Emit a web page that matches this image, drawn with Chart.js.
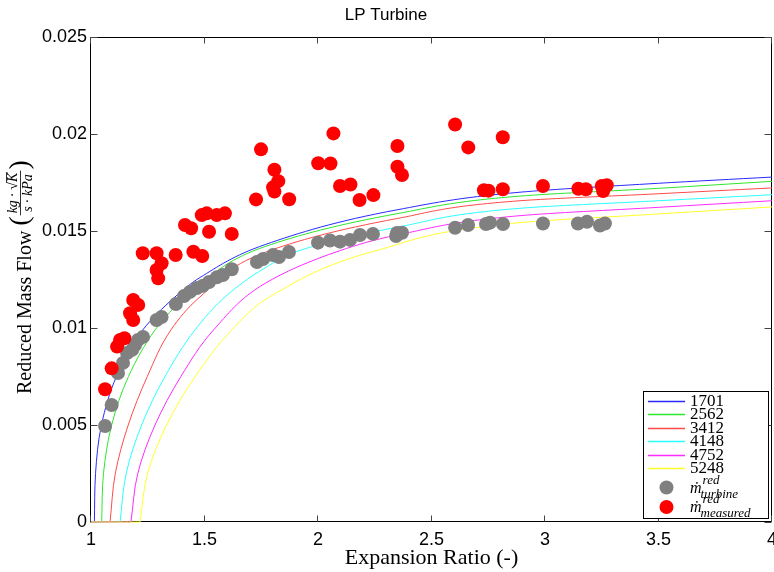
<!DOCTYPE html>
<html><head><meta charset="utf-8">
<script src="https://cdn.jsdelivr.net/npm/chart.js@4.4.1/dist/chart.umd.min.js"></script>
<style>html,body{margin:0;padding:0;background:#fff;overflow:hidden}canvas{display:block}</style>
</head><body>
<canvas id="c" width="774" height="572"></canvas>
<script>
const chartTitle = 'LP Turbine';
const xAxisTitle = 'Expansion Ratio (-)';
const yAxisTitle = 'Reduced Mass Flow';
const yUnitNum = 'kg \u00B7 \u221AK';
const yUnitDen = 's \u00B7 kPa';
const xTickLabels = ['1','1.5','2','2.5','3','3.5','4'];
const yTickLabels = ['0','0.005','0.01','0.015','0.02','0.025'];
const speedLabels = ['1701','2562','3412','4148','4752','5248'];
const turbineLabel = {main:'\u1E41', sup:'red', sub:'turbine'};
const measuredLabel = {main:'\u1E41', sup:'red', sub:'measured'};

// constant-speed lines: flat part along the axis, then the rising curve
const speedStart = [1.015, 1.047, 1.084, 1.128, 1.176, 1.216];
const speed1701X = [1.015, 1.020, 1.046, 1.112, 1.228, 1.37, 1.48, 1.767, 2.352, 2.89, 3.5, 4.0];
const speed1701Y = [0, 0.0025, 0.005, 0.0075, 0.0099, 0.0116, 0.0126, 0.0143, 0.0161, 0.0170, 0.01746, 0.01778];
const speed2562X = [1.047, 1.055, 1.091, 1.165, 1.282, 1.37, 1.48, 1.767, 2.352, 2.89, 3.5, 4.0];
const speed2562Y = [0, 0.0025, 0.005, 0.0075, 0.0099, 0.0111, 0.0123, 0.0142, 0.0159, 0.0168, 0.0172, 0.01756];
const speed3412X = [1.084, 1.107, 1.164, 1.248, 1.352, 1.48, 1.767, 2.352, 2.89, 3.5, 4.0];
const speed3412Y = [0, 0.0025, 0.005, 0.0075, 0.0099, 0.0116, 0.0139, 0.01565, 0.01656, 0.01692, 0.01722];
const speed4148X = [1.128, 1.155, 1.223, 1.326, 1.458, 1.6, 1.767, 1.92, 2.352, 2.89, 3.5, 4.0];
const speed4148Y = [0, 0.0025, 0.005, 0.0075, 0.0099, 0.0117, 0.0131, 0.0140, 0.0152, 0.01617, 0.01656, 0.01687];
const speed4752X = [1.176, 1.206, 1.282, 1.396, 1.54, 1.767, 2.10, 2.352, 2.89, 3.5, 4.0];
const speed4752Y = [0, 0.0025, 0.005, 0.0075, 0.0099, 0.0123, 0.0140, 0.0148, 0.01579, 0.01622, 0.01656];
const speed5248X = [1.216, 1.249, 1.333, 1.459, 1.62, 1.80, 2.26, 2.89, 3.5, 4.0];
const speed5248Y = [0, 0.0025, 0.005, 0.0075, 0.0099, 0.0117, 0.0140, 0.01543, 0.01588, 0.01624];

const turbineX = [1.062,1.091,1.119,1.141,1.159,1.181,1.194,1.207,1.229,1.289,1.311,1.374,1.410,1.436,1.467,1.493,1.520,1.554,1.581,1.620,1.731,1.758,1.802,1.828,1.872,2.000,2.053,2.097,2.141,2.185,2.242,2.344,2.348,2.370,2.604,2.661,2.740,2.758,2.815,2.991,3.145,3.185,3.242,3.264];
const turbineY = [0.00495,0.00603,0.00768,0.00820,0.00871,0.00887,0.00912,0.00938,0.00954,0.01041,0.01057,0.01124,0.01165,0.01186,0.01206,0.01218,0.01237,0.01261,0.01273,0.01303,0.01340,0.01356,0.01376,0.01366,0.01392,0.01440,0.01451,0.01445,0.01454,0.01479,0.01485,0.01474,0.01490,0.01491,0.01517,0.01531,0.01536,0.01543,0.01536,0.01539,0.01539,0.01548,0.01528,0.01539];

const measuredX = [1.062,1.091,1.115,1.128,1.147,1.172,1.186,1.186,1.208,1.228,1.289,1.311,1.289,1.296,1.373,1.414,1.441,1.451,1.490,1.488,1.510,1.520,1.554,1.590,1.620,1.727,1.749,1.808,1.825,1.802,1.808,1.873,2.001,2.055,2.068,2.097,2.143,2.183,2.244,2.350,2.350,2.370,2.604,2.662,2.814,2.731,2.751,2.814,2.991,3.147,3.180,3.250,3.272,3.256];
const measuredY = [0.00684,0.00792,0.00904,0.00938,0.00947,0.01076,0.01041,0.01144,0.01119,0.01385,0.01385,0.01334,0.01299,0.01256,0.01376,0.01531,0.01514,0.01393,0.01371,0.01582,0.01591,0.01496,0.01582,0.01591,0.01485,0.01663,0.01921,0.01816,0.01757,0.01725,0.01703,0.01664,0.01849,0.01848,0.02003,0.01732,0.01740,0.01660,0.01685,0.01938,0.01831,0.01789,0.02049,0.01931,0.01983,0.01710,0.01708,0.01715,0.01732,0.01718,0.01715,0.01732,0.01736,0.01706];

const speedX = [speed1701X, speed2562X, speed3412X, speed4148X, speed4752X, speed5248X];
const speedY = [speed1701Y, speed2562Y, speed3412Y, speed4148Y, speed4752Y, speed5248Y];
const lineColors = ['#2a2aff','#2ee62e','#ff4a4a','#2affff','#ff2aff','#ffff2a'];

const SANS = "'Liberation Sans', Arial, sans-serif";
const SERIF = "'Liberation Serif', 'Times New Roman', serif";

function pts(xs, ys){ return xs.map((x,i)=>({x:x, y:ys[i]})); }
function curvePts(i){
  const flat = [{x:1, y:0}, {x:speedStart[i], y:0}, {x:speedStart[i], y:null}];
  return flat.concat(pts(speedX[i], speedY[i]));
}

const datasets = [];
speedLabels.forEach((lab,i)=>{
  datasets.push({
    type:'line', label: lab, data: curvePts(i), indexAxis: 'y',
    borderColor: lineColors[i], borderWidth: 1, pointRadius: 0, pointHoverRadius: 0,
    fill: false, spanGaps: false, cubicInterpolationMode: 'monotone', order: 7 - i, clip: 2
  });
});
datasets.push({type:'scatter', label:'turbine', legendMath: turbineLabel, data: pts(turbineX, turbineY),
  backgroundColor:'#808080', borderWidth:0, pointRadius:7, pointHoverRadius:7, order:1});
datasets.push({type:'scatter', label:'measured', legendMath: measuredLabel, data: pts(measuredX, measuredY),
  backgroundColor:'#ff0000', borderWidth:0, pointRadius:7, pointHoverRadius:7, order:0});

// keep the plot box at its fixed place (the last x label may run off the canvas, as in the source)
const boxPlugin = {
  id:'box',
  afterLayout(chart){
    const a = chart.chartArea, xs = chart.scales.x;
    const r = chart.width - 2;
    a.right = r; a.width = a.right - a.left;
    xs.right = r; xs.width = xs.right - xs.left;
    xs.configure();
  }
};

const framePlugin = {
  id:'frame',
  beforeDatasetsDraw(chart){
    const {ctx, chartArea:a, scales} = chart;
    const L = Math.round(a.left)-0.5, R = Math.round(a.right)-0.5, T = Math.round(a.top)+0.5, B = Math.round(a.bottom)-0.5;
    ctx.save();
    ctx.strokeStyle = '#000'; ctx.lineWidth = 1;
    ctx.beginPath();
    ctx.moveTo(L,T); ctx.lineTo(R,T); ctx.lineTo(R,B); ctx.lineTo(L,B); ctx.closePath();
    ctx.stroke();
    ctx.strokeStyle = '#444';
    ctx.beginPath();
    scales.x.ticks.forEach(t=>{
      const p = Math.round(scales.x.getPixelForValue(t.value))-0.5;
      ctx.moveTo(p,B); ctx.lineTo(p,B-6);
      ctx.moveTo(p,T); ctx.lineTo(p,T+6);
    });
    scales.y.ticks.forEach(t=>{
      const p = Math.round(scales.y.getPixelForValue(t.value))+0.5;
      ctx.moveTo(L,p); ctx.lineTo(L+7,p);
      ctx.moveTo(R,p); ctx.lineTo(R-7,p);
    });
    ctx.stroke();
    ctx.restore();
  }
};

const yTitlePlugin = {
  id:'ytitle',
  afterDraw(chart){
    const ctx = chart.ctx, a = chart.chartArea;
    ctx.save();
    ctx.translate(24, a.bottom - 128);
    ctx.rotate(-Math.PI/2);
    ctx.fillStyle = '#000';
    const mainFont = '20px ' + SERIF, parFont = '28px ' + SERIF, fracFont = 'italic 14px ' + SERIF;
    ctx.font = mainFont; const wMain = ctx.measureText(yAxisTitle + ' ').width;
    ctx.font = parFont; const wPar = ctx.measureText('(').width;
    ctx.font = fracFont; const wNum = ctx.measureText(yUnitNum).width, wDen = ctx.measureText(yUnitDen).width;
    const wFrac = Math.max(wNum, wDen) + 6;
    let x = 0;
    ctx.textBaseline = 'alphabetic'; ctx.textAlign = 'left';
    ctx.font = mainFont; ctx.fillText(yAxisTitle + ' ', x, 7); x += wMain;
    ctx.textBaseline = 'middle';
    ctx.font = parFont; ctx.fillText('(', x, -3); x += wPar;
    ctx.textBaseline = 'alphabetic';
    ctx.font = fracFont;
    ctx.fillText(yUnitNum, x + (wFrac - wNum)/2, -7);
    ctx.fillText(yUnitDen, x + (wFrac - wDen)/2, 8);
    const wK = ctx.measureText('K').width;
    const nxEnd = x + (wFrac - wNum)/2 + wNum;
    ctx.fillRect(nxEnd - wK - 0.5, -18, wK + 1, 0.8);
    ctx.fillRect(x + 1, -4, wFrac - 2, 0.8);
    x += wFrac;
    ctx.textBaseline = 'middle';
    ctx.font = parFont; ctx.fillText(')', x, -3);
    ctx.restore();
  }
};

const legendPlugin = {
  id:'mlegend',
  afterDraw(chart){
    const ctx = chart.ctx, a = chart.chartArea;
    const ds = chart.data.datasets;
    const x1 = a.right - 4, y1 = a.bottom - 4, x0 = x1 - 125, y0 = y1 - 127;
    ctx.save();
    ctx.fillStyle = '#fff';
    ctx.fillRect(x0, y0, x1-x0, y1-y0);
    ctx.strokeStyle = '#000'; ctx.lineWidth = 1;
    ctx.strokeRect(Math.round(x0)+0.5, Math.round(y0)+0.5, Math.round(x1-x0), Math.round(y1-y0));
    let y = y0 + 9.5;
    const lx0 = x0 + 5, lx1 = x0 + 42, tx = x0 + 47;
    ds.forEach(d=>{
      if (d.type === 'line') {
        ctx.strokeStyle = d.borderColor; ctx.lineWidth = 1.6;
        ctx.beginPath(); ctx.moveTo(lx0, Math.round(y)+0.5); ctx.lineTo(lx1, Math.round(y)+0.5); ctx.stroke();
        ctx.fillStyle = '#000'; ctx.font = '17px ' + SERIF; ctx.textBaseline = 'middle'; ctx.textAlign='left';
        ctx.fillText(d.label, tx, y + 1);
        y += 13.5;
      }
    });
    y += 5;
    ds.forEach(d=>{
      if (d.type === 'scatter') {
        ctx.fillStyle = d.backgroundColor;
        ctx.beginPath(); ctx.arc((lx0+lx1)/2, y + 1, 7, 0, Math.PI*2); ctx.fill();
        const m = d.legendMath;
        ctx.fillStyle = '#000'; ctx.textBaseline = 'alphabetic'; ctx.textAlign='left';
        ctx.font = 'italic 16px ' + SERIF; ctx.fillText(m.main, tx, y + 6);
        const wm = ctx.measureText(m.main).width;
        ctx.font = 'italic 13px ' + SERIF;
        ctx.fillText(m.sup, tx + wm + 1, y - 3);
        ctx.fillText(m.sub, tx + wm - 1, y + 11);
        y += 19.5;
      }
    });
    ctx.restore();
  }
};

new Chart(document.getElementById('c'), {
  type: 'scatter',
  data: { datasets },
  options: {
    responsive: false, animation: false, events: [],
    devicePixelRatio: 1,
    layout: { padding: { left: 0, right: 2, top: 0, bottom: 0 } },
    plugins: {
      legend: { display: false }, tooltip: { enabled: false },
      title: { display: true, text: chartTitle, color: '#000',
        font: { family: SANS, size: 17, weight: 'normal', lineHeight: 1 },
        padding: { top: 7, bottom: 13 } }
    },
    scales: {
      x: {
        type: 'linear', min: 1, max: 4,
        grid: { display: false, drawTicks: false }, border: { display: false },
        ticks: { stepSize: 0.5, padding: 7, color: '#000', font: { family: SANS, size: 18 },
          maxRotation: 0, autoSkip: false,
          callback: (v, i) => xTickLabels[i] },
        title: { display: true, text: xAxisTitle, color: '#000', font: { family: SERIF, size: 22 }, padding: { top: 0, bottom: 1 } },
        afterFit(s){ s.height = 50; s.paddingLeft = 0; s.paddingRight = 0; }
      },
      y: {
        type: 'linear', min: 0, max: 0.025,
        grid: { display: false, drawTicks: false }, border: { display: false },
        ticks: { stepSize: 0.005, padding: 4, color: '#000', font: { family: SANS, size: 18 },
          autoSkip: false, callback: (v, i) => yTickLabels[i] },
        afterFit(s){ s.width = 91; s.paddingTop = 0; s.paddingBottom = 0; }
      }
    }
  },
  plugins: [boxPlugin, framePlugin, yTitlePlugin, legendPlugin]
});
</script>
</body></html>
